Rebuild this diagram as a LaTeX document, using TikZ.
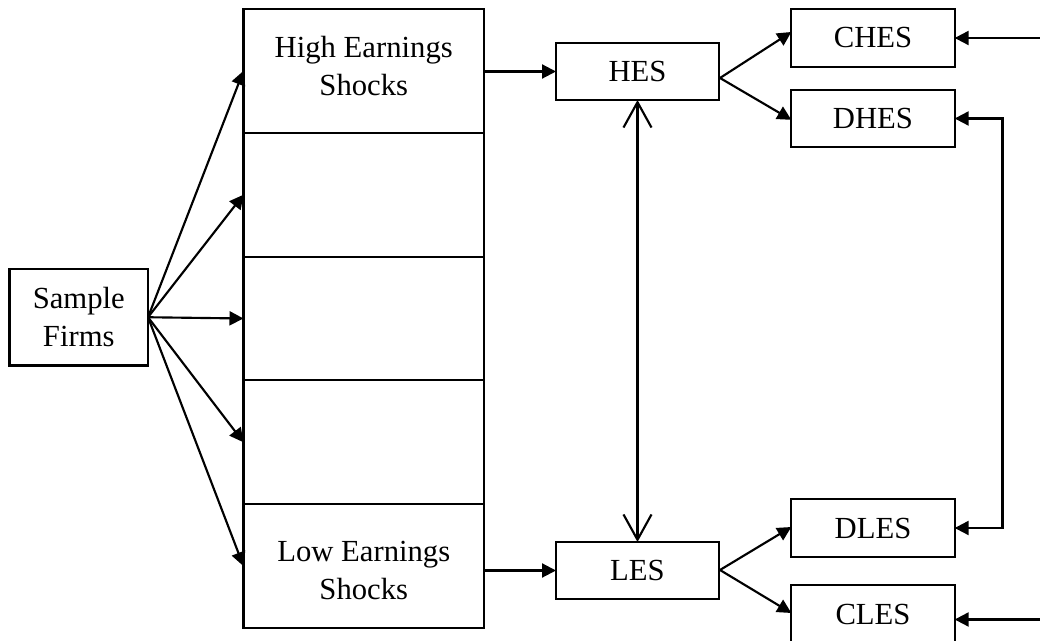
\documentclass[tikz,border=0pt]{standalone}
\usepackage{fontspec}
\setmainfont{Liberation Serif}
\usetikzlibrary{arrows.meta}
\begin{document}
\begin{tikzpicture}[x=0.75pt,y=-0.75pt,
  every node/.style={font=\fontsize{23pt}{28.5pt}\selectfont, inner sep=0pt, outer sep=0pt},
  bx/.style={draw, line width=1.6pt, rectangle},
  cell/.style={bx, minimum width=180.4pt, minimum height=92.85pt},
  small/.style={bx, minimum width=122.5pt, minimum height=43pt},
  arr/.style={line width=1.6pt, -{Triangle[length=10.5pt,width=10.5pt]}},
  barr/.style={line width=1.6pt, {Triangle[length=10.5pt,width=10.5pt]}-{Triangle[length=10.5pt,width=10.5pt]}},
  varr/.style={line width=1.6pt, {Straight Barb[length=19pt,width=21pt]}-{Straight Barb[length=19pt,width=21pt]}}
]
\useasboundingbox (0,0) rectangle (1040,641);

% Sample firms
\node[bx, minimum width=103.9pt, minimum height=72.4pt, align=center] (SF) at (78.75,317.25) {Sample\\Firms};

% tall column of cells
\node[cell] (c1) at (363.75,70.9) {};
\node[cell] (c2) at (363.75,194.7) {};
\node[cell] (c3) at (363.75,318.5) {};
\node[cell] (c4) at (363.75,442.3) {};
\node[cell] (c5) at (363.75,566.1) {};
\node[align=center] (t1) at (363.75,66) {High Earnings\\Shocks};
\node[align=center] (t5) at (363.75,570) {Low Earnings\\Shocks};

% HES / LES
\node[bx, minimum width=122.25pt, minimum height=42.75pt] (HES) at (637.5,71.5) {HES};
\node[bx, minimum width=122.25pt, minimum height=42.75pt] (LES) at (637.5,570.5) {LES};

% right boxes
\node[small] (CHES) at (873,38) {CHES};
\node[small] (DHES) at (873,118.5) {DHES};
\node[small] (DLES) at (873,528) {DLES};
\node[small] (CLES) at (873,614) {CLES};

% fan from sample firms
\foreach \c in {c1,c2,c3,c4,c5} {
  \draw[arr] (SF.east) -- (\c.west);
}

% cells to HES/LES
\draw[arr] (c1.east |- HES.west) -- (HES.west);
\draw[arr] (c5.east |- LES.west) -- (LES.west);

% HES <-> LES
\draw[varr] (HES.south) -- (LES.north);

% forks
\coordinate (hf) at (720,78);
\coordinate (lf) at (720,570);
\draw[arr] (hf) -- ([yshift=4.5pt]CHES.west);
\draw[arr] (hf) -- ([yshift=-1pt]DHES.west);
\draw[arr] (lf) -- ([yshift=0.75pt]DLES.west);
\draw[arr] (lf) -- ([yshift=0.75pt]CLES.west);

% right side connectors
\coordinate (chin) at (1042,38);
\coordinate (clin) at (1042,619.5);
\coordinate (bxx) at (1002.5,300);
\draw[arr] (chin) -- (CHES.east);
\draw[arr] (clin) -- (clin -| CLES.east);
\draw[barr] (DHES.east) -- (bxx |- DHES.east) -- (bxx |- DLES.east) -- (DLES.east);
\end{tikzpicture}
\end{document}
